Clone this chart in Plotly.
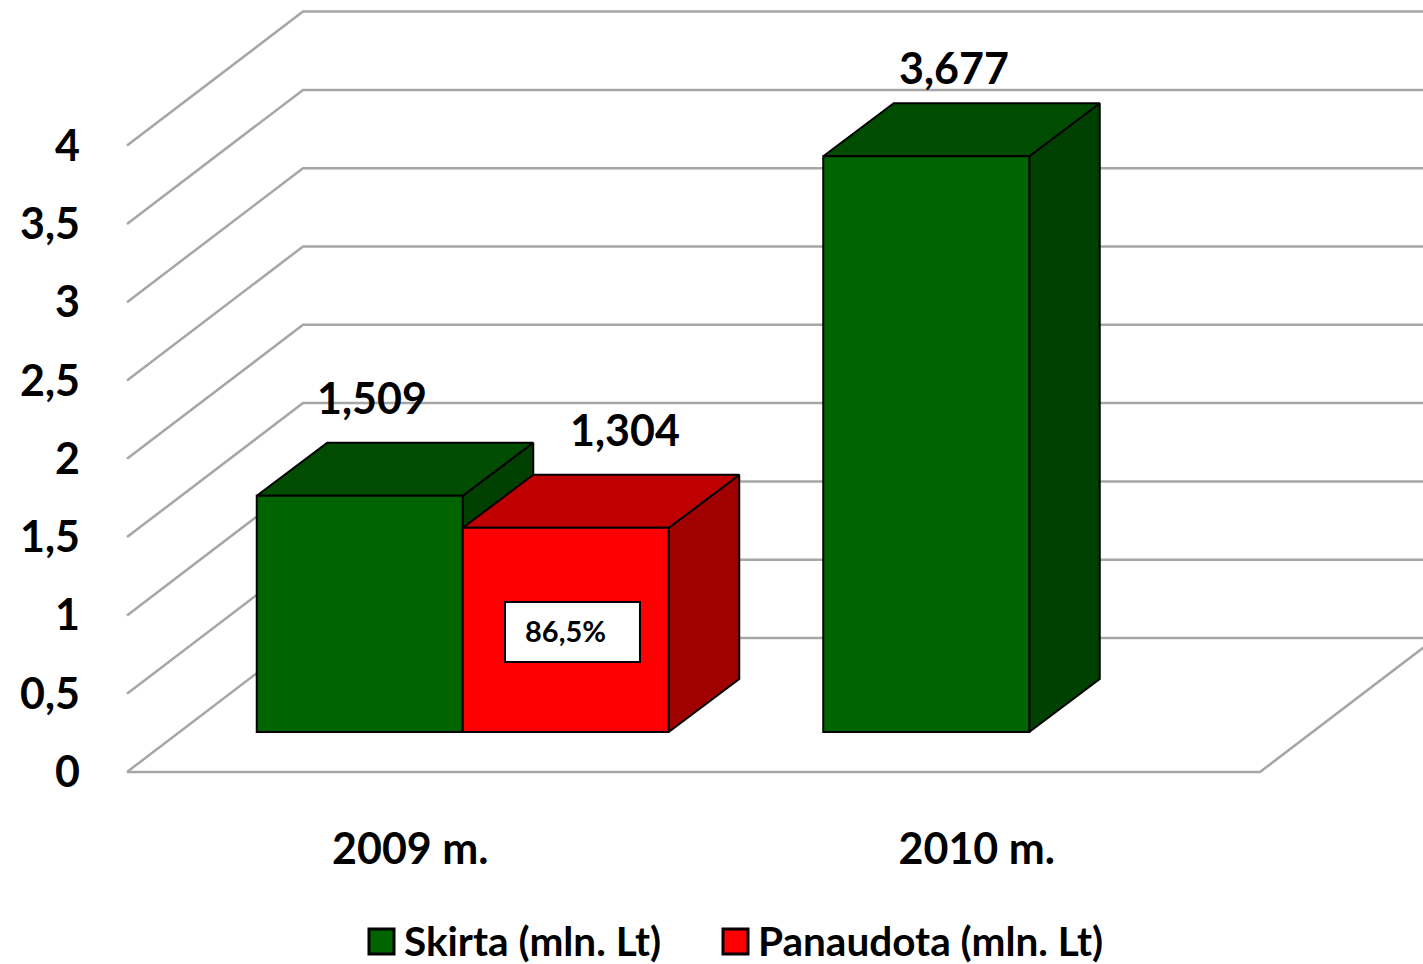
import plotly.graph_objects as go

# ---- data ----
categories = ["2009 m.", "2010 m."]
skirta = [1.509, 3.677]
panaudota = [1.304, None]
skirta_labels = ["1,509", "3,677"]
panaudota_labels = ["1,304", None]
series_names = ["Skirta (mln. Lt)", "Panaudota (mln. Lt)"]
tick_values = [0, 0.5, 1, 1.5, 2, 2.5, 3, 3.5, 4]
tick_labels = ["0", "0,5", "1", "1,5", "2", "2,5", "3", "3,5", "4"]
share_label = "86,5%"

# ---- layout constants (pixels of the 1423x964 page) ----
W, H = 1423, 964
PLOT_L, PLOT_R, PLOT_T, PLOT_B = 81, 1423, 0, 820
FLOOR_PX_LEFT, FLOOR_PX_RIGHT, FLOOR_PX_Y = 127, 1260, 772
PX_PER_UNIT = 156.6
PX_PER_CAT = (FLOOR_PX_RIGHT - FLOOR_PX_LEFT) / 2

def xu(px):
    return (px - FLOOR_PX_LEFT) / PX_PER_CAT - 0.5
def yu(py):
    return (FLOOR_PX_Y - py) / PX_PER_UNIT
def dxu(px):
    return px / PX_PER_CAT
def dyu(px):
    return px / PX_PER_UNIT

X_RANGE = [xu(PLOT_L), xu(PLOT_R)]
Y_RANGE = [yu(PLOT_B), yu(PLOT_T)]
WALL_DX, WALL_DY = dxu(176), dyu(134)
BAR_DX, BAR_DY = dxu(70.5), dyu(53)
LIFT_X, LIFT_Y = dxu(52.5), dyu(40)
BAR_W = dxu(206)

GRID = "#a6a6a6"
GREEN = ["#006400", "#004c00", "#004000"]
RED = ["#ff0000", "#c00000", "#a00000"]
FONT = "Lato, Carlito, Calibri, sans-serif"
EDGE = "#000000"
SIZE = 43

fig = go.Figure()

# ---- walls and floor ----
x_l, x_r = -0.5, 1.5
for v in tick_values:
    fig.add_trace(go.Scatter(
        x=[x_l, x_l + WALL_DX, x_r + WALL_DX], y=[v, v + WALL_DY, v + WALL_DY],
        mode="lines", line=dict(color=GRID, width=2.5), hoverinfo="skip", showlegend=False))
fig.add_trace(go.Scatter(
    x=[x_l, x_r, x_r + WALL_DX], y=[0, 0, WALL_DY],
    mode="lines", line=dict(color=GRID, width=2.5), hoverinfo="skip", showlegend=False))

# ---- depth faces of the bars, computed from the values ----
def faces(x0, value, colors):
    x1 = x0 + BAR_W
    base, top = LIFT_Y, LIFT_Y + value
    fig.add_trace(go.Scatter(
        x=[x1, x1 + BAR_DX, x1 + BAR_DX, x1, x1],
        y=[base, base + BAR_DY, top + BAR_DY, top, base],
        fill="toself", fillcolor=colors[2], mode="lines", line=dict(color=EDGE, width=2),
        xaxis="x2", yaxis="y2", hoverinfo="skip", showlegend=False))
    fig.add_trace(go.Scatter(
        x=[x0, x1, x1 + BAR_DX, x0 + BAR_DX, x0],
        y=[top, top, top + BAR_DY, top + BAR_DY, top],
        fill="toself", fillcolor=colors[1], mode="lines", line=dict(color=EDGE, width=2),
        xaxis="x2", yaxis="y2", hoverinfo="skip", showlegend=False))

for i in range(len(categories)):
    c = i + LIFT_X
    faces(c - BAR_W, skirta[i], GREEN)
    if panaudota[i] is not None:
        faces(c, panaudota[i], RED)

# ---- front faces: real bars ----
bar_x = [i + LIFT_X for i in range(len(categories))]
for name, vals, col in [(series_names[0], skirta, GREEN[0]), (series_names[1], panaudota, RED[0])]:
    fig.add_trace(go.Bar(
        x=bar_x, y=vals, base=[LIFT_Y] * len(vals), name=name,
        marker=dict(color=col, line=dict(color=EDGE, width=2)),
        xaxis="x3", yaxis="y3", showlegend=False))

hidden = dict(visible=False, fixedrange=True)
fig.update_layout(
    width=W, height=H, autosize=False,
    margin=dict(l=PLOT_L, r=W - PLOT_R, t=PLOT_T, b=H - PLOT_B, autoexpand=False),
    paper_bgcolor="white", plot_bgcolor="white",
    barmode="group", bargap=1 - 2 * BAR_W, bargroupgap=0,
    font=dict(family=FONT, color="#000000"),
    xaxis=dict(range=X_RANGE, tickmode="array", tickvals=[0, 1], ticktext=categories,
               showgrid=False, zeroline=False, showline=False, ticks="",
               tickfont=dict(family=FONT, size=SIZE, weight=700, color="black")),
    yaxis=dict(range=Y_RANGE, tickmode="array", tickvals=tick_values, ticktext=tick_labels,
               showgrid=False, zeroline=False, showline=False, ticks="",
               tickfont=dict(family=FONT, size=SIZE, weight=700, color="black")),
    xaxis2=dict(range=X_RANGE, overlaying="x", **hidden),
    yaxis2=dict(range=Y_RANGE, overlaying="y", **hidden),
    xaxis3=dict(range=X_RANGE, overlaying="x", **hidden),
    yaxis3=dict(range=Y_RANGE, overlaying="y", **hidden),
)

# ---- value labels ----
annos = []
def label(text, px, py, size=SIZE, weight=700, xanchor="center"):
    annos.append(dict(text=text, x=xu(px), y=yu(py), xref="x", yref="y", showarrow=False,
                      xanchor=xanchor, yanchor="middle",
                      font=dict(family=FONT, size=size, weight=weight, color="black")))

label(skirta_labels[0], 372, 397)
label(panaudota_labels[0], 625, 429)
label(skirta_labels[1], 954, 67)
label(share_label, 565, 630, size=29)

# ---- percent box ----
shapes = [dict(type="rect", xref="x", yref="y", x0=xu(505), x1=xu(640), y0=yu(602), y1=yu(662),
               fillcolor="white", line=dict(color="black", width=2), layer="above")]

# ---- legend (swatch + text) ----
def py_paper(py):
    return (PLOT_B - py) / (PLOT_B - PLOT_T)
def px_paper(px):
    return (px - PLOT_L) / (PLOT_R - PLOT_L)
for name, col, sx, tx in [(series_names[0], GREEN[0], 368, 402), (series_names[1], RED[0], 722, 756)]:
    shapes.append(dict(type="rect", xref="paper", yref="paper",
                       x0=px_paper(sx + 1), x1=px_paper(sx + 26),
                       y0=py_paper(929), y1=py_paper(954),
                       fillcolor=col, line=dict(color="black", width=3)))
    annos.append(dict(text=name, xref="paper", yref="paper", x=px_paper(tx), y=py_paper(941),
                      xanchor="left", yanchor="middle", showarrow=False,
                      font=dict(family=FONT, size=40.5, weight=700, color="black")))

fig.update_layout(annotations=annos, shapes=shapes)
fig.write_html("out.html", config=dict(displayModeBar=False),
               post_script="document.body.style.margin='0';document.documentElement.style.overflow='hidden';")
